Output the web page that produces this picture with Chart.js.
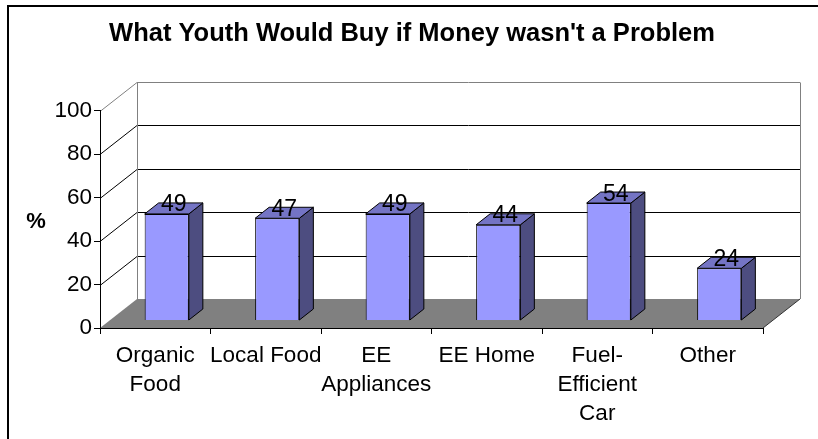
<!DOCTYPE html>
<html>
<head>
<meta charset="utf-8">
<title>What Youth Would Buy if Money wasn't a Problem</title>
<script src="https://cdn.jsdelivr.net/npm/chart.js@4"></script>
<style>
  html, body { margin: 0; padding: 0; background: #fff; }
  #wrap { width: 818px; height: 439px; position: relative; }
</style>
</head>
<body>
<div id="wrap"><canvas id="youthChart"></canvas></div>
<script>
const categories = [['Organic', 'Food'], 'Local Food', ['EE', 'Appliances'], 'EE Home', ['Fuel-', 'Efficient', 'Car'], 'Other'];
const percentBuy = [49, 47, 49, 44, 54, 24];
const yTicks = [0, 20, 40, 60, 80, 100];

const FONT = '"Liberation Sans", Arial, sans-serif';
// oblique offsets for the fake 3D look
const WALL = { x: 37, y: -29 };
const BAR_SHIFT = { x: 11.5, y: -7.5 };
const BAR_DEPTH = { x: 14, y: -11 };

const line = (ctx, pts, color) => {
    ctx.beginPath();
    ctx.moveTo(pts[0][0], pts[0][1]);
    for (let i = 1; i < pts.length; i++) ctx.lineTo(pts[i][0], pts[i][1]);
    ctx.strokeStyle = color;
    ctx.lineWidth = 1;
    ctx.stroke();
};

const box3d = {
    id: 'box3d',
    beforeDraw(chart) {
        const { ctx, chartArea: a, scales: { y } } = chart;
        const y0 = y.getPixelForValue(yTicks[0]);
        const yMax = y.getPixelForValue(yTicks[yTicks.length - 1]);
        const bl = a.left + WALL.x, br = a.right + WALL.x;
        ctx.save();
        // floor
        ctx.beginPath();
        ctx.moveTo(a.left, y0);
        ctx.lineTo(a.right, y0);
        ctx.lineTo(br, y0 + WALL.y);
        ctx.lineTo(bl, y0 + WALL.y);
        ctx.closePath();
        ctx.fillStyle = '#808080';
        ctx.fill();
        line(ctx, [[a.right, y0], [br, y0 + WALL.y]], '#333');
        // grid on side and back walls
        yTicks.slice(1, -1).forEach(v => {
            const py = Math.round(y.getPixelForValue(v)) + 0.5;
            line(ctx, [[a.left, py], [bl, py + WALL.y], [br, py + WALL.y]], '#000');
        });
        const ty = Math.round(yMax) + 0.5;
        line(ctx, [[a.left, ty], [bl, ty + WALL.y], [br, ty + WALL.y]], '#808080');
        line(ctx, [[Math.round(bl) + 0.5, ty + WALL.y], [Math.round(bl) + 0.5, y0 + WALL.y]], '#808080');
        line(ctx, [[Math.round(br) + 0.5, ty + WALL.y], [Math.round(br) + 0.5, y0 + WALL.y]], '#808080');
        ctx.restore();
    },
    beforeDatasetDraw(chart) {
        chart.ctx.save();
        chart.ctx.translate(BAR_SHIFT.x, BAR_SHIFT.y);
    },
    afterDatasetDraw(chart, args) {
        const ctx = chart.ctx;
        args.meta.data.forEach(bar => {
            const { x, y, base, width } = bar.getProps(['x', 'y', 'base', 'width'], true);
            const l = x - width / 2, r = x + width / 2;
            // side face
            ctx.beginPath();
            ctx.moveTo(r, y);
            ctx.lineTo(r + BAR_DEPTH.x, y + BAR_DEPTH.y);
            ctx.lineTo(r + BAR_DEPTH.x, base + BAR_DEPTH.y);
            ctx.lineTo(r, base);
            ctx.closePath();
            ctx.fillStyle = '#4D4D80';
            ctx.fill();
            ctx.strokeStyle = '#000';
            ctx.lineWidth = 1;
            ctx.stroke();
            // top face
            ctx.beginPath();
            ctx.moveTo(l, y);
            ctx.lineTo(l + BAR_DEPTH.x, y + BAR_DEPTH.y);
            ctx.lineTo(r + BAR_DEPTH.x, y + BAR_DEPTH.y);
            ctx.lineTo(r, y);
            ctx.closePath();
            ctx.fillStyle = '#7474C4';
            ctx.fill();
            ctx.stroke();
        });
        ctx.restore();
    },
    afterDatasetsDraw(chart) {
        const ctx = chart.ctx;
        const meta = chart.getDatasetMeta(0);
        ctx.save();
        ctx.font = '23px ' + FONT;
        ctx.fillStyle = '#000';
        ctx.textAlign = 'center';
        ctx.textBaseline = 'alphabetic';
        meta.data.forEach((bar, i) => {
            const { x, y } = bar.getProps(['x', 'y'], true);
            ctx.fillText(String(percentBuy[i]),
                x + BAR_SHIFT.x + BAR_DEPTH.x / 2,
                y + BAR_SHIFT.y + BAR_DEPTH.y / 2 + 3);
        });
        ctx.restore();
    },
    afterDraw(chart) {
        const ctx = chart.ctx;
        ctx.save();
        // axis caption
        ctx.font = 'bold 22px ' + FONT;
        ctx.fillStyle = '#000';
        ctx.textAlign = 'center';
        ctx.textBaseline = 'middle';
        ctx.fillText('%', 36, (chart.chartArea.top + chart.chartArea.bottom) / 2 + 3);
        // chart frame
        ctx.strokeStyle = '#000';
        ctx.lineWidth = 2;
        ctx.strokeRect(8, 6, 900, 900);
        ctx.restore();
    }
};

new Chart(document.getElementById('youthChart'), {
    type: 'bar',
    data: {
        labels: categories,
        datasets: [{
            data: percentBuy,
            backgroundColor: '#9999FF',
            borderColor: '#000',
            borderWidth: 1,
            barPercentage: 0.4,
            categoryPercentage: 1
        }]
    },
    options: {
        responsive: true,
        maintainAspectRatio: false,
        animation: false,
        layout: { padding: { left: 6, right: 0, top: 0, bottom: 0 } },
        plugins: {
            legend: { display: false },
            tooltip: { enabled: false },
            title: {
                display: true,
                text: "What Youth Would Buy if Money wasn't a Problem",
                color: '#000',
                font: { family: FONT, size: 25.5, weight: 'bold', lineHeight: 1.2 },
                padding: { top: 19, bottom: 60.9 }
            }
        },
        scales: {
            x: {
                grid: { offset: true, drawOnChartArea: false, color: '#000', tickLength: 6 },
                border: { color: '#000' },
                ticks: {
                    color: '#000',
                    font: { family: FONT, size: 22.5, lineHeight: 1.3 },
                    padding: 7,
                    maxRotation: 0,
                    autoSkip: false
                },
                afterFit: s => { s.height = 111; }
            },
            y: {
                min: 0,
                max: 100,
                grid: { drawOnChartArea: false, color: '#000', tickLength: 6 },
                border: { color: '#000' },
                ticks: {
                    stepSize: 20,
                    color: '#000',
                    font: { family: FONT, size: 22.5 },
                    padding: 2
                },
                afterFit: s => { s.width = 94; }
            },
            // empty strip on the right that holds room for the back wall
            yRight: {
                position: 'right',
                grid: { display: false },
                border: { display: false },
                ticks: { display: false },
                afterFit: s => { s.width = 55; }
            }
        }
    },
    plugins: [box3d]
});
</script>
</body>
</html>
